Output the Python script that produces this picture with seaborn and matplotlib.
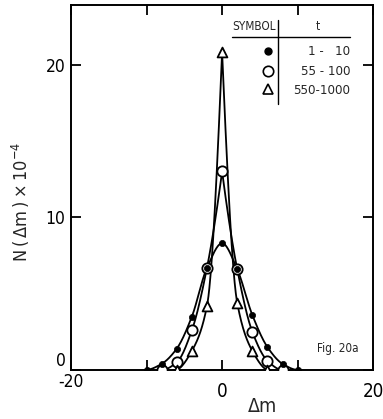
import numpy as np
import pandas as pd
import matplotlib
matplotlib.use("Agg")
import matplotlib.pyplot as plt
import matplotlib.transforms as mtransforms
import seaborn as sns

# Distribution N(Δm) (×10^4) for three time windows
dm_filled = [-10, -8, -6, -4, -2, 0, 2, 4, 6, 8, 10]
n_filled = [0.0, 0.4, 1.4, 3.5, 6.7, 8.3, 6.6, 3.6, 1.5, 0.4, 0.0]

dm_open = [-8, -6, -4, -2, 0, 2, 4, 6, 8]
n_open = [0.0, 0.5, 2.6, 6.7, 13.0, 6.6, 2.5, 0.6, 0.0]

dm_tri = [-6, -4, -2, 0, 2, 4, 6]
n_tri = [0.0, 1.25, 4.2, 20.8, 4.4, 1.25, 0.0]

legend_labels = ["1 -   10", "55 - 100", "550-1000"]
xticks = [-20, -10, 0, 10, 20]
xticklabels = ["-20", "", "0", "", "20"]
yticks = [0, 10, 20]


def pchip(x, y, xs):
    """Monotone piecewise cubic (Fritsch-Carlson) through the given points."""
    x = np.asarray(x, float)
    y = np.asarray(y, float)
    h = np.diff(x)
    delta = np.diff(y) / h
    n = len(x)
    d = np.zeros(n)
    for k in range(1, n - 1):
        if delta[k - 1] * delta[k] > 0:
            w1 = 2 * h[k] + h[k - 1]
            w2 = h[k] + 2 * h[k - 1]
            d[k] = (w1 + w2) / (w1 / delta[k - 1] + w2 / delta[k])
    if n > 2:
        d[0] = ((2 * h[0] + h[1]) * delta[0] - h[0] * delta[1]) / (h[0] + h[1])
        if np.sign(d[0]) != np.sign(delta[0]):
            d[0] = 0
        d[-1] = ((2 * h[-1] + h[-2]) * delta[-1] - h[-1] * delta[-2]) / (h[-1] + h[-2])
        if np.sign(d[-1]) != np.sign(delta[-1]):
            d[-1] = 0
    else:
        d[:] = delta[0]
    idx = np.clip(np.searchsorted(x, xs) - 1, 0, n - 2)
    t = (xs - x[idx]) / h[idx]
    h00 = 2 * t**3 - 3 * t**2 + 1
    h10 = t**3 - 2 * t**2 + t
    h01 = -2 * t**3 + 3 * t**2
    h11 = t**3 - t**2
    return h00 * y[idx] + h10 * h[idx] * d[idx] + h01 * y[idx + 1] + h11 * h[idx] * d[idx + 1]


def smooth(x, y, cusp=False):
    x = np.asarray(x, float)
    y = np.asarray(y, float)
    if not cusp:
        xs = np.linspace(x[0], x[-1], 400)
        return xs, pchip(x, y, xs)
    k = int(np.argmax(y))
    xl = np.linspace(x[0], x[k], 200)
    xr = np.linspace(x[k], x[-1], 200)
    yl = pchip(x[:k + 1], y[:k + 1], xl)
    yr = pchip(x[k:], y[k:], xr)
    return np.concatenate([xl, xr]), np.concatenate([yl, yr])


sns.set_style("ticks")
plt.rcParams["font.family"] = ["DejaVu Sans"]
plt.rcParams["font.stretch"] = "condensed"

fig = plt.figure(figsize=(3.83, 4.19), dpi=100)
ax = fig.add_axes([0.1854, 0.117, 0.789, 0.871])

curves = [
    (dm_filled, n_filled, False),
    (dm_open, n_open, True),
    (dm_tri, n_tri, True),
]
for xv, yv, cusp in curves:
    xs, ys = smooth(xv, yv, cusp)
    sns.lineplot(x=xs, y=ys, ax=ax, color="black", linewidth=1.3, sort=False,
                 estimator=None, zorder=2)

df_f = pd.DataFrame({"dm": dm_filled, "n": n_filled})
df_o = pd.DataFrame({"dm": dm_open, "n": n_open})
df_t = pd.DataFrame({"dm": dm_tri, "n": n_tri})

sns.scatterplot(data=df_o, x="dm", y="n", ax=ax, marker="o", s=55,
                facecolor="white", edgecolor="black", linewidth=1.3, zorder=3)
sns.scatterplot(data=df_t, x="dm", y="n", ax=ax, marker="^", s=50,
                facecolor="white", edgecolor="black", linewidth=1.3, zorder=3)
sns.scatterplot(data=df_f, x="dm", y="n", ax=ax, marker="o", s=20,
                color="black", edgecolor="black", linewidth=0.5, zorder=4)

ax.set_xlim(-20, 20)
ax.set_ylim(0, 23.9)
ax.set_xticks(xticks)
ax.set_xticklabels(xticklabels)
ax.set_yticks(yticks)
ax.tick_params(direction="in", length=7, width=1.3,
               top=True, right=True, colors="black")
ax.tick_params(axis="x", labelsize=13.5, pad=9)
ax.tick_params(axis="y", labelsize=12.5, pad=4)
for sp in ax.spines.values():
    sp.set_linewidth(1.4)
    sp.set_color("black")

# keep the corner labels apart: "0" sits above the axis, "-20" is raised
ax.get_yticklabels()[0].set_va("bottom")
lbl = ax.get_xticklabels()[0]
lbl.set_transform(lbl.get_transform() +
                  mtransforms.ScaledTranslation(0, 9 / 100, fig.dpi_scale_trans))
lbl.set_fontsize(12.5)

ax.set_xlabel("\u0394m", fontsize=14)
ax.xaxis.set_label_coords(0.632, -0.074)
ax.set_ylabel("N\u2009(\u2009\u0394m\u2009)\u2009\u00d7\u200910$^{-4}$", fontsize=13)
ax.yaxis.set_label_coords(-0.13, 0.46)

# symbol table
tr = ax.transAxes
ax.text(0.533, 0.94, "SYMBOL", transform=tr, fontsize=8.5, ha="left", va="center")
ax.text(0.818, 0.94, "t", transform=tr, fontsize=8.5, ha="center", va="center")
ax.plot([0.533, 0.924], [0.912, 0.912], transform=tr, color="black", lw=1.0)
ax.plot([0.685, 0.685], [0.96, 0.73], transform=tr, color="black", lw=1.0)
row_y = [0.874, 0.819, 0.766]
ax.plot([0.652], [row_y[0]], transform=tr, marker="o", ms=5, color="black",
        linestyle="none")
ax.plot([0.652], [row_y[1]], transform=tr, marker="o", ms=7.5, mfc="white",
        mec="black", mew=1.2, linestyle="none")
ax.plot([0.652], [row_y[2] + 0.004], transform=tr, marker="^", ms=6.5, mfc="white",
        mec="black", mew=1.2, linestyle="none")
for yy, lab in zip(row_y, legend_labels):
    ax.text(0.925, yy, lab, transform=tr, fontsize=9.5, ha="right", va="center")

ax.text(0.815, 0.06, "Fig. 20a", transform=tr, fontsize=8.5, ha="left", va="center")

fig.savefig("out.png", dpi=100)
